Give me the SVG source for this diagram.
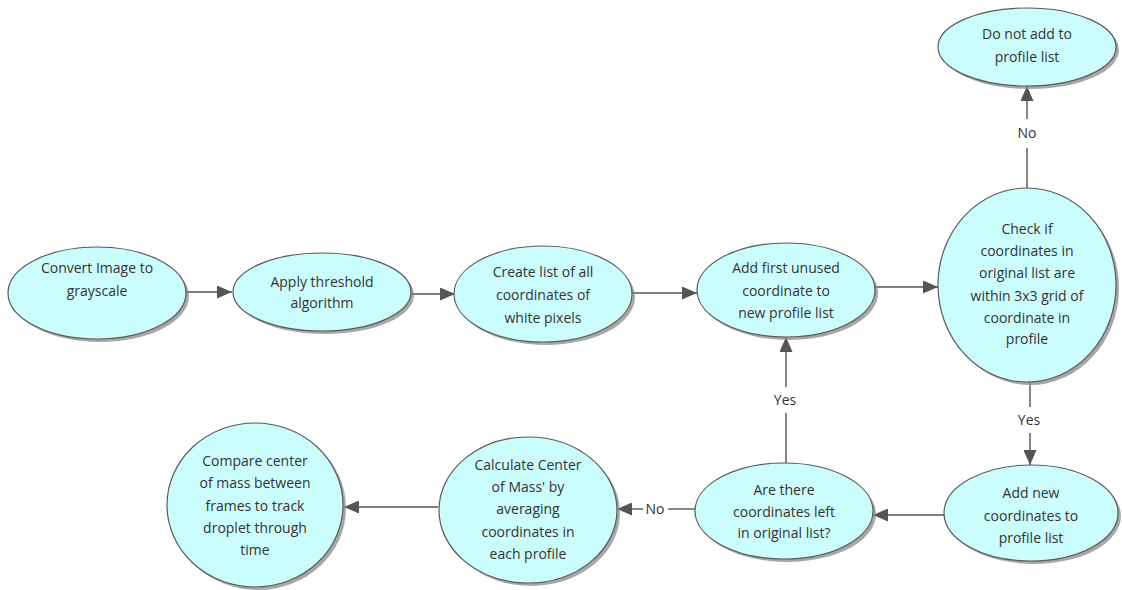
<svg xmlns="http://www.w3.org/2000/svg" width="1122" height="590" viewBox="0 0 1122 590">
<defs>
<style>
.n{fill:#ccfdfd;stroke:#5a5a5a;stroke-width:1.2}
.s{fill:#8a8a8a;opacity:0.75}
.t{font-family:"Open Sans","DejaVu Sans",sans-serif;font-size:14px;fill:#333;text-anchor:middle}
.c{stroke:#555;stroke-width:1.4;fill:none}
.l{font-family:"Open Sans","DejaVu Sans",sans-serif;font-size:14px;fill:#333;text-anchor:middle}
</style>
<marker id="ah" markerUnits="userSpaceOnUse" markerWidth="15" markerHeight="13" refX="15" refY="6.5" orient="auto">
<path d="M0,0 L15,6.5 L0,13 Z" fill="#555"/>
</marker>
</defs>
<rect width="1122" height="590" fill="#fff"/>
<g id="connectors">
<line class="c" x1="186" y1="292" x2="232" y2="292" marker-end="url(#ah)"/>
<line class="c" x1="411" y1="294" x2="455" y2="294" marker-end="url(#ah)"/>
<line class="c" x1="632" y1="293" x2="697" y2="293" marker-end="url(#ah)"/>
<line class="c" x1="875" y1="287" x2="938" y2="287" marker-end="url(#ah)"/>
<line class="c" x1="1027" y1="188" x2="1027" y2="148"/>
<line class="c" x1="1027" y1="119" x2="1027" y2="86" marker-end="url(#ah)"/>
<text class="l" x="1027" y="138">No</text>
<line class="c" x1="1030" y1="381" x2="1030" y2="407"/>
<line class="c" x1="1030" y1="433" x2="1030" y2="465" marker-end="url(#ah)"/>
<text class="l" x="1029" y="425">Yes</text>
<line class="c" x1="945" y1="515" x2="873" y2="515" marker-end="url(#ah)"/>
<line class="c" x1="786" y1="463" x2="786" y2="413"/>
<line class="c" x1="786" y1="387" x2="786" y2="337" marker-end="url(#ah)"/>
<text class="l" x="785" y="405">Yes</text>
<line class="c" x1="695" y1="509" x2="668" y2="509"/>
<line class="c" x1="643" y1="509" x2="617" y2="509" marker-end="url(#ah)"/>
<text class="l" x="655" y="514">No</text>
<line class="c" x1="438" y1="507" x2="344" y2="507" marker-end="url(#ah)"/>
</g>
<g id="n1">
<ellipse class="s" cx="100" cy="296" rx="89" ry="46"/>
<ellipse class="n" cx="97" cy="293" rx="89" ry="46"/>
<text class="t" x="97" y="273">Convert Image to</text>
<text class="t" x="97" y="296">grayscale</text>
</g>
<g id="n2">
<ellipse class="s" cx="325" cy="295" rx="89" ry="39"/>
<ellipse class="n" cx="322" cy="292" rx="89" ry="39"/>
<text class="t" x="322" y="287">Apply threshold</text>
<text class="t" x="322" y="308">algorithm</text>
</g>
<g id="n3">
<ellipse class="s" cx="546" cy="297" rx="89" ry="48"/>
<ellipse class="n" cx="543" cy="294" rx="89" ry="48"/>
<text class="t" x="543" y="277">Create list of all</text>
<text class="t" x="543" y="300">coordinates of</text>
<text class="t" x="543" y="323">white pixels</text>
</g>
<g id="n4">
<ellipse class="s" cx="789" cy="293" rx="89" ry="47"/>
<ellipse class="n" cx="786" cy="290" rx="89" ry="47"/>
<text class="t" x="786" y="273">Add first unused</text>
<text class="t" x="786" y="296">coordinate to</text>
<text class="t" x="786" y="318">new profile list</text>
</g>
<g id="n5">
<ellipse class="s" cx="1030" cy="288" rx="89" ry="97"/>
<ellipse class="n" cx="1027" cy="285" rx="89" ry="97"/>
<text class="t" x="1027" y="234">Check if</text>
<text class="t" x="1027" y="256">coordinates in</text>
<text class="t" x="1027" y="278">original list are</text>
<text class="t" x="1027" y="301">within 3x3 grid of</text>
<text class="t" x="1027" y="323">coordinate in</text>
<text class="t" x="1027" y="344">profile</text>
</g>
<g id="n6">
<ellipse class="s" cx="1030" cy="50" rx="89" ry="39"/>
<ellipse class="n" cx="1027" cy="47" rx="89" ry="39"/>
<text class="t" x="1027" y="39">Do not add to</text>
<text class="t" x="1027" y="62">profile list</text>
</g>
<g id="n7">
<ellipse class="s" cx="1034" cy="516" rx="87" ry="48"/>
<ellipse class="n" cx="1031" cy="513" rx="87" ry="48"/>
<text class="t" x="1031" y="498">Add new</text>
<text class="t" x="1031" y="521">coordinates to</text>
<text class="t" x="1031" y="543">profile list</text>
</g>
<g id="n8">
<ellipse class="s" cx="787" cy="514" rx="89" ry="48"/>
<ellipse class="n" cx="784" cy="511" rx="89" ry="48"/>
<text class="t" x="784" y="495">Are there</text>
<text class="t" x="784" y="517">coordinates left</text>
<text class="t" x="784" y="538">in original list?</text>
</g>
<g id="n9">
<ellipse class="s" cx="531" cy="513" rx="89" ry="73"/>
<ellipse class="n" cx="528" cy="510" rx="89" ry="73"/>
<text class="t" x="528" y="470">Calculate Center</text>
<text class="t" x="528" y="492">of Mass' by</text>
<text class="t" x="528" y="514">averaging</text>
<text class="t" x="528" y="537">coordinates in</text>
<text class="t" x="528" y="559">each profile</text>
</g>
<g id="n10">
<ellipse class="s" cx="258" cy="508" rx="88" ry="82"/>
<ellipse class="n" cx="255" cy="505" rx="88" ry="82"/>
<text class="t" x="255" y="466">Compare center</text>
<text class="t" x="255" y="488">of mass between</text>
<text class="t" x="255" y="511">frames to track</text>
<text class="t" x="255" y="533">droplet through</text>
<text class="t" x="255" y="555">time</text>
</g>
</svg>
